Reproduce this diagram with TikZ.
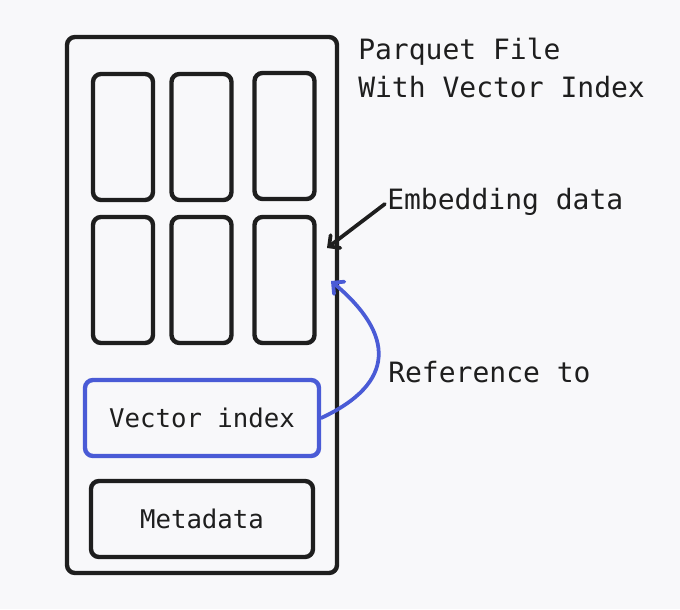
\documentclass[tikz,border=0pt]{standalone}
\usepackage{fontspec}
\setmonofont{DejaVu Sans Mono}
\usetikzlibrary{arrows.meta}
\definecolor{ink}{HTML}{1E1E1E}
\definecolor{refblue}{HTML}{4A5BD6}
\definecolor{paper}{HTML}{F8F8FA}
\tikzset{
  box/.style={draw=ink,line width=3.3pt,rounded corners=6pt},
  col/.style={box,minimum width=45pt,minimum height=94.5pt},
  lbl/.style={text=ink,font=\ttfamily\fontsize{21}{29}\selectfont,inner sep=0pt},
  inlbl/.style={text=ink,font=\ttfamily\fontsize{19.3}{24}\selectfont},
  arr/.style={line width=2.8pt,line cap=round,-{Straight Barb[length=6pt,width=12pt,line cap=round]}}
}
\begin{document}
\begin{tikzpicture}[x=0.75pt,y=-0.75pt]
            \fill[paper](0,0)rectangle(680,609);
            \node[box,minimum width=202.5pt,minimum height=402pt](file)at(202,305){};
            \node[col](c1)at(123,137){};
            \node[col](c2)at(201.5,137){};
            \node[col](c3)at(284.5,136){};
            \node[col](c4)at(123,280){};
            \node[col](c5)at(201.5,280){};
            \node[col](c6)at(284.5,280){};
            \node[box,draw=refblue,minimum width=175.5pt,minimum height=57pt,inlbl](vi)at(202,418){Vector index};
            \node[box,minimum width=166.5pt,minimum height=57pt,inlbl](meta)at(202,519){Metadata};
            \node[lbl,anchor=base west,align=left](title)at(358,98){Parquet File\\With Vector Index};
            \node[lbl,anchor=base west](emb)at(387,210){Embedding data};
            \node[lbl,anchor=base west](ref)at(388,382){Reference to};
            \coordinate(embtip)at(327,248);
            \coordinate(reftip)at(331,281);
            \draw[arr,draw=ink,shorten <=2pt](emb.west)--(embtip);
            \draw[arr,draw=refblue](vi.east)to[out=25,in=-40,looseness=1.55](reftip);
        \end{tikzpicture}
\end{document}
